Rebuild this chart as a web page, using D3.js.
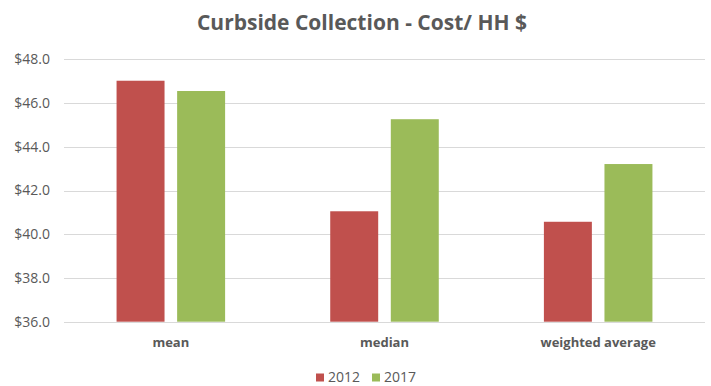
<!DOCTYPE html>
<html>
<head>
<meta charset="utf-8">
<script src="https://cdn.jsdelivr.net/npm/d3@7"></script>
<style>
  html, body { margin: 0; padding: 0; background: #fff; }
  svg { display: block; }
</style>
</head>
<body>
<svg id="chart" width="711" height="386"></svg>
<script>
const categories = ["mean", "median", "weighted average"];
const seriesNames = ["2012", "2017"];
const values2012 = [47.02, 41.05, 40.57];
const values2017 = [46.55, 45.26, 43.21];
const yTicks = [36, 38, 40, 42, 44, 46, 48];
const colors = ["#C0504D", "#9BBB59"];
const titleText = "Curbside Collection - Cost/ HH $";

(function () {
const font = "'Open Sans', Lato, sans-serif";
const svg = d3.select("#chart");
const pLeft = 64, pRight = 705, pTop = 59.3, pBottom = 321.7;

const data = categories.map((c, i) => ({ cat: c, vals: [values2012[i], values2017[i]] }));

const y = d3.scaleLinear().domain([36, 48]).range([pBottom, pTop]);
const x0 = d3.scaleBand().domain(categories).range([pLeft, pRight]).padding(0);
const step = x0.step();
const x1 = d3.scaleBand().domain(seriesNames)
  .range([0.246 * step, 0.754 * step]).paddingInner(0.208).paddingOuter(0);

// gridlines
const grid = svg.append("g").attr("class", "grid");
grid.selectAll("line").data(yTicks).enter().append("line")
  .attr("x1", pLeft).attr("x2", pRight)
  .attr("y1", d => Math.round(y(d)) + 0.5).attr("y2", d => Math.round(y(d)) + 0.5)
  .attr("stroke", "#D9D9D9").attr("stroke-width", 1);

// y axis labels
const yAxis = d3.axisLeft(y).tickValues(yTicks).tickSize(0).tickPadding(0)
  .tickFormat(d => "$" + d3.format(".1f")(d));
const ya = svg.append("g").attr("transform", `translate(${50},0)`).call(yAxis);
ya.select(".domain").remove();
ya.selectAll("text").attr("fill", "#595959").style("font-family", font).style("font-size", "14px");

// bars
const groups = svg.append("g").selectAll("g").data(data).enter().append("g")
  .attr("transform", d => `translate(${x0(d.cat)},0)`);
groups.selectAll("rect").data(d => d.vals.map((v, i) => ({ s: seriesNames[i], v, i })))
  .enter().append("rect")
  .attr("x", d => x1(d.s))
  .attr("width", x1.bandwidth())
  .attr("y", d => y(d.v))
  .attr("height", d => y(36) - y(d.v))
  .attr("fill", d => colors[d.i]);

// x axis baseline
svg.append("line").attr("x1", pLeft).attr("x2", pRight)
  .attr("y1", Math.round(pBottom) + 0.5).attr("y2", Math.round(pBottom) + 0.5)
  .attr("stroke", "#D9D9D9").attr("stroke-width", 1);

// x axis labels
const xAxis = d3.axisBottom(x0).tickSize(0).tickPadding(0);
const xa = svg.append("g").attr("transform", `translate(0,${338})`).call(xAxis);
xa.select(".domain").remove();
xa.selectAll("text").attr("fill", "#595959").style("font-family", font)
  .style("font-size", "13px").style("font-weight", "bold");

// title
svg.append("text").attr("x", 362).attr("y", 30).attr("text-anchor", "middle")
  .attr("fill", "#595959").style("font-family", font).style("font-size", "21px")
  .style("font-weight", "bold").text(titleText);

// legend
const legend = svg.append("g");
const legendX = [316, 372];
seriesNames.forEach((s, i) => {
  legend.append("rect").attr("x", legendX[i]).attr("y", 373.5).attr("width", 8).attr("height", 8)
    .attr("fill", colors[i]);
  legend.append("text").attr("x", legendX[i] + 12).attr("y", 381.5)
    .attr("fill", "#595959").style("font-family", font).style("font-size", "14px").text(s);
});
})();
</script>
</body>
</html>
